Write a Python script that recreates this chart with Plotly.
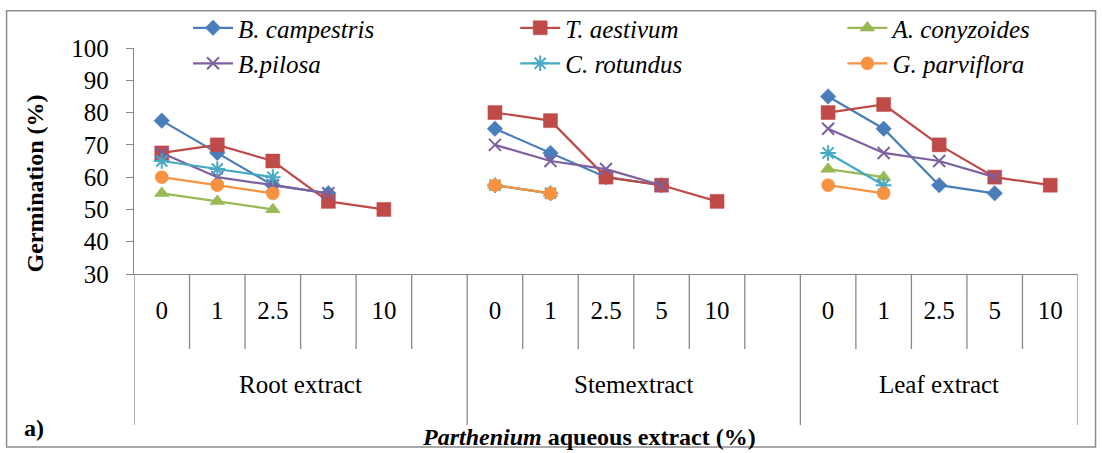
import plotly.graph_objects as go

groups = ["Root extract", "Stemextract", "Leaf extract"]
concentrations = ["0", "1", "2.5", "5", "10"]

species = ["B. campestris", "T. aestivum", "A. conyzoides", "B.pilosa", "C. rotundus", "G. parviflora"]

# values per species: Root (0,1,2.5,5,10), Stem (...), Leaf (...)
b_campestris = [77.5, 67.5, 57.5, 55, None, 75, 67.5, 60, 57.5, None, 85, 75, 57.5, 55, None]
t_aestivum = [67.5, 70, 65, 52.5, 50, 80, 77.5, 60, 57.5, 52.5, 80, 82.5, 70, 60, 57.5]
a_conyzoides = [55, 52.5, 50, None, None, 57.5, 55, None, None, None, 62.5, 60, None, None, None]
b_pilosa = [67.5, 60, 57.5, 55, None, 70, 65, 62.5, 57.5, None, 75, 67.5, 65, 60, None]
c_rotundus = [65, 62.5, 60, None, None, 57.5, 55, None, None, None, 67.5, 57.5, None, None, None]
g_parviflora = [60, 57.5, 55, None, None, 57.5, 55, None, None, None, 57.5, 55, None, None, None]

series_values = [b_campestris, t_aestivum, a_conyzoides, b_pilosa, c_rotundus, g_parviflora]
colors = ["#4a7ebb", "#be4b48", "#98b954", "#7d60a0", "#46aac5", "#f69240"]
symbols = ["diamond", "square", "triangle-up", "x-thin-open", "asterisk-open", "circle"]
sizes = [12, 14, 13, 12, 13, 13]
legend_ids = ["legend", "legend2", "legend3", "legend", "legend2", "legend3"]

FONT = "Liberation Serif"
AX = "#898989"
n_c = len(concentrations)
slot_per_group = n_c + 1

fig = go.Figure()
for name, vals, col, sym, sz, lg in zip(species, series_values, colors, symbols, sizes, legend_ids):
    xs, ys = [], []
    for g in range(len(groups)):
        for i in range(n_c):
            xs.append(g * slot_per_group + i)
            ys.append(vals[g * n_c + i])
        xs.append(g * slot_per_group + n_c)
        ys.append(None)
    open_sym = sym.endswith("open")
    fig.add_trace(go.Scatter(
        x=xs, y=ys, name="<i>" + name + "</i>", mode="lines+markers",
        connectgaps=False, legend=lg,
        line=dict(color=col, width=2.2),
        marker=dict(symbol=sym, size=sz, color=col,
                    line=dict(color=col, width=2 if open_sym else 0.5)),
    ))

tickvals = []
ticktext = []
for g in range(len(groups)):
    for i, c in enumerate(concentrations):
        tickvals.append(g * slot_per_group + i)
        ticktext.append(c)
x_max = (len(groups) - 1) * slot_per_group + n_c - 1

shapes = []
boundaries = [-0.5 + k for k in range(int(x_max + 2))]
group_bounds = [-0.5] + [g * slot_per_group - 0.5 for g in range(1, len(groups))] + [x_max + 0.5]
for b in boundaries:
    long = any(abs(b - gb) < 1e-9 for gb in group_bounds)
    shapes.append(dict(type="line", xref="x", yref="paper", x0=b, x1=b, y0=0,
                       y1=-0.668 if long else -0.332, line=dict(color=AX, width=1.3)))
shapes.append(dict(type="rect", xref="paper", yref="paper", x0=-0.135, x1=1.0186,
                   y0=-0.765, y1=1.165, line=dict(color="#8c8c8c", width=1.5)))

annotations = []
for g, gname in enumerate(groups):
    start = g * slot_per_group - 0.5
    end = min(start + slot_per_group, x_max + 0.5)
    annotations.append(dict(x=(start + end) / 2, y=-0.487, xref="x", yref="paper",
                            xanchor="center", yanchor="middle",
                            text=gname, showarrow=False,
                            font=dict(family=FONT, size=25, color="black")))
annotations.append(dict(x=-0.105, y=0.40, xref="paper", yref="paper", textangle=-90,
                        xanchor="center", yanchor="middle",
                        text="<b>Germination (%)</b>", showarrow=False,
                        font=dict(family=FONT, size=24, color="black")))
annotations.append(dict(x=0.482, y=-0.72, xref="paper", yref="paper",
                        xanchor="center", yanchor="middle",
                        text="<b><i>Parthenium</i> aqueous extract (%)</b>", showarrow=False,
                        font=dict(family=FONT, size=24, color="black")))
annotations.append(dict(x=-0.119, y=-0.68, xref="paper", yref="paper",
                        xanchor="left", yanchor="middle",
                        text="<b>a)</b>", showarrow=False,
                        font=dict(family=FONT, size=24, color="black")))

legend_style = dict(orientation="v", y=1.19, yanchor="top", xanchor="left",
                    itemwidth=40,
                    font=dict(family=FONT, size=25, color="black"),
                    bgcolor="rgba(0,0,0,0)", tracegroupgap=0)

fig.update_layout(
    width=1102, height=453,
    margin=dict(l=134, r=24, t=48, b=179, autoexpand=False),
    paper_bgcolor="white", plot_bgcolor="white",
    font=dict(family=FONT, size=25, color="black"),
    showlegend=True,
    legend=dict(x=(188 - 134) / 943.5, **legend_style),
    legend2=dict(x=(515 - 134) / 943.5, **legend_style),
    legend3=dict(x=(842 - 134) / 943.5, **legend_style),
    xaxis=dict(range=[-0.5, x_max + 0.5], tickmode="array", tickvals=tickvals, ticktext=ticktext,
               showline=True, linecolor=AX, linewidth=1.3, ticks="", showgrid=False, zeroline=False,
               tickfont=dict(family=FONT, size=25, color="black"), ticklabelstandoff=14),
    yaxis=dict(range=[30, 100], dtick=10, tick0=30, ticks="outside", ticklen=7, tickcolor=AX,
               tickwidth=1.3, showline=True, linecolor=AX, linewidth=1.3, showgrid=False,
               zeroline=False, tickfont=dict(family=FONT, size=25, color="black"),
               ticklabelstandoff=12),
    shapes=shapes, annotations=annotations,
)

fig.write_html("out.html")
